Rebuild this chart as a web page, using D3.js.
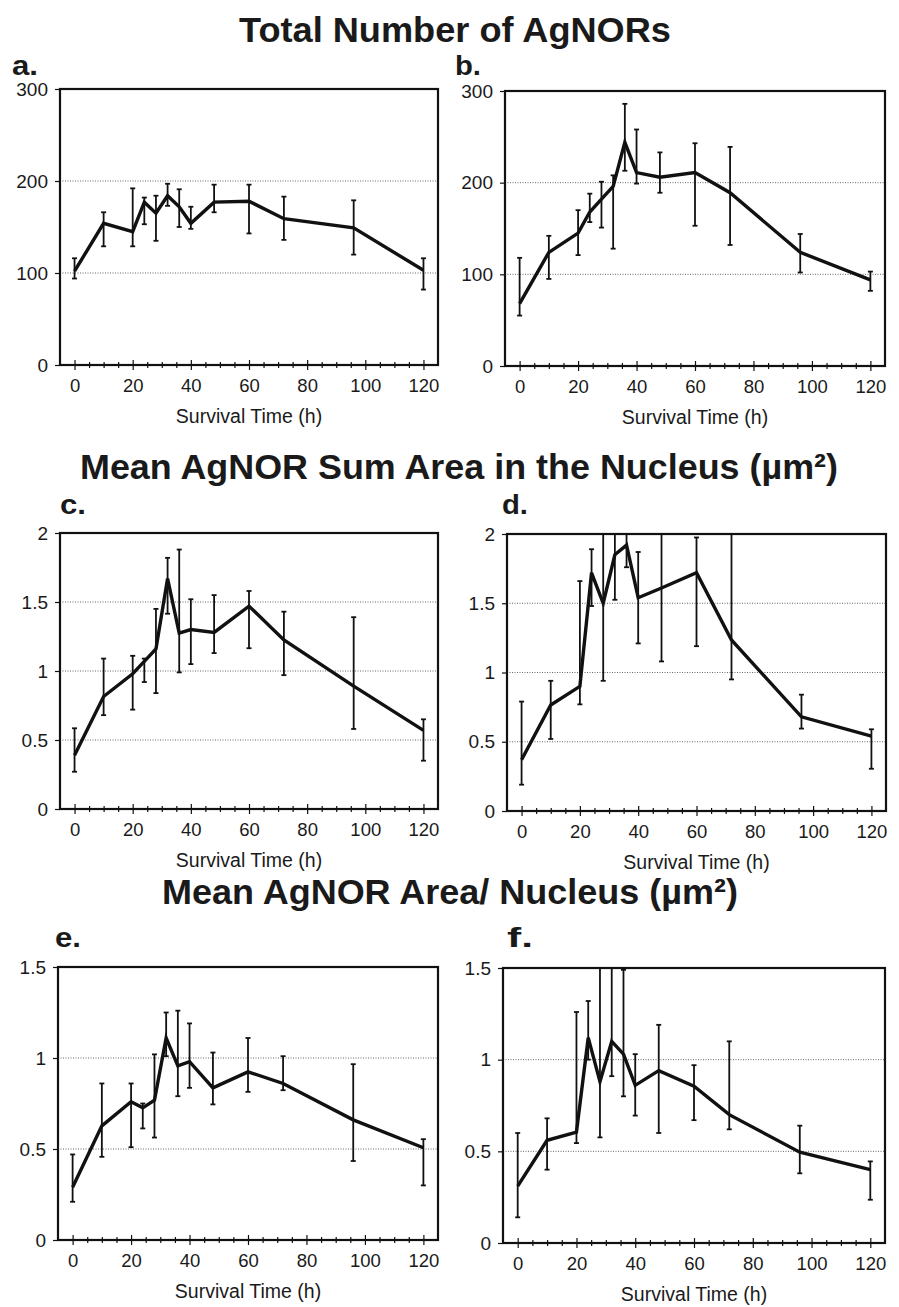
<!DOCTYPE html>
<html lang="en">
<head>
<meta charset="utf-8">
<style>
body { margin: 0; background: #fff; }
text { font-family: Arial, "Liberation Sans", sans-serif; fill: #1a1a1a; }
.title { font-weight: bold; font-size: 35px; }
.plabel { font-weight: bold; font-size: 27px; }
.grid line { stroke: #666; stroke-dasharray: 1,1.5; stroke-width: 1; }
.frame { fill: none; stroke: #111; stroke-width: 2.2; }
.series { fill: none; stroke: #111; stroke-width: 3.4; }
.err line { stroke: #111; stroke-width: 1.8; }
.axis text { fill: #1a1a1a; }
.axis line { stroke: #111; stroke-width: 1.2; }
.axis path { display: none; }
.xlab { font-size: 19.5px; }
</style>
</head>
<body>
<svg width="899" height="1307"></svg>
<script src="https://d3js.org/d3.v7.min.js"></script>
<script>

// sampling times (h)
var hours = [0, 10, 20, 24, 28, 32, 36, 40, 48, 60, 72, 96, 120];

// a. total number of AgNORs
var aMean = [102, 154, 145, 177, 165, 184, 172, 154, 177, 178, 159, 149, 103];
var aHi   = [116, 166, 192, 182, 184, 197, 191, 172, 196, 196, 183, 179, 116];
var aLo   = [94, 129, 129, 153, 135, 173, 150, 148, 166, 143, 136, 120, 82];

// b.
var bMean = [68, 124, 145, 168, 182, 196, 244, 211, 206, 211, 189, 124, 94];
var bHi   = [118, 142, 170, 188, 201, 208, 286, 258, 233, 243, 239, 144, 103];
var bLo   = [55, 95, 121, 157, 151, 128, 213, 199, 189, 153, 132, 102, 82];

// c. mean AgNOR sum area
var cMean = [0.39, 0.815, 0.98, 1.07, 1.16, 1.67, 1.275, 1.30, 1.28, 1.47, 1.225, 0.89, 0.57];
var cHi   = [0.585, 1.09, 1.11, 1.09, 1.45, 1.82, 1.88, 1.52, 1.55, 1.58, 1.43, 1.39, 0.65];
var cLo   = [0.27, 0.68, 0.72, 0.92, 0.84, 1.415, 0.99, 1.05, 1.13, 1.165, 0.97, 0.58, 0.35];

// d.
var dMean = [0.37, 0.765, 0.90, 1.72, 1.50, 1.85, 1.92, 1.54, 1.61, 1.72, 1.235, 0.68, 0.54];
var dHi   = [0.79, 0.94, 1.66, 1.89, 2.3, 2.2, 2.1, 1.87, 2.3, 1.975, 2.4, 0.84, 0.59];
var dLo   = [0.19, 0.52, 0.77, 1.48, 0.94, 1.525, 1.76, 1.21, 1.08, 1.19, 0.95, 0.595, 0.305];

// e. mean AgNOR area / nucleus
var eMean = [0.29, 0.627, 0.76, 0.726, 0.768, 1.11, 0.957, 0.98, 0.836, 0.924, 0.86, 0.66, 0.507];
var eHi   = [0.47, 0.86, 0.86, 0.75, 1.02, 1.25, 1.26, 1.19, 1.03, 1.11, 1.01, 0.966, 0.554];
var eLo   = [0.21, 0.457, 0.51, 0.613, 0.563, 1.01, 0.79, 0.836, 0.745, 0.814, 0.823, 0.434, 0.30];

// f.
var fMean = [0.31, 0.56, 0.605, 1.12, 0.88, 1.10, 1.03, 0.86, 0.94, 0.855, 0.70, 0.495, 0.40];
var fHi   = [0.60, 0.68, 1.26, 1.32, 1.7, 1.65, 1.49, 1.03, 1.19, 0.97, 1.10, 0.64, 0.445];
var fLo   = [0.14, 0.40, 0.545, 1.0, 0.576, 0.91, 0.80, 0.695, 0.60, 0.67, 0.62, 0.38, 0.236];

var yTicksCount = [0, 100, 200, 300];
var yTicksArea = [0, 0.5, 1, 1.5, 2];
var yTicksSmall = [0, 0.5, 1, 1.5];
var xTicks = [0, 20, 40, 60, 80, 100, 120];

var titles = ["Total Number of AgNORs", "Mean AgNOR Sum Area in the Nucleus (\u00b5m\u00b2)", "Mean AgNOR Area/ Nucleus (\u00b5m\u00b2)"];
var xTitle = "Survival Time (h)";

var svg = d3.select("svg");

// titles: x centre, baseline, width
var titlePos = [[455, 42, 432], [459, 479, 758], [450, 904, 576]];
titles.forEach(function(t, i) {
  svg.append("text")
      .attr("class", "title")
      .attr("x", titlePos[i][0])
      .attr("y", titlePos[i][1])
      .attr("text-anchor", "middle")
      .attr("textLength", titlePos[i][2])
      .attr("lengthAdjust", "spacingAndGlyphs")
      .text(t);
});

var panels = [
  {id: "a", mean: aMean, hi: aHi, lo: aLo, ymax: 300, ticks: yTicksCount, box: [60, 89, 438, 365], lab: [12, 75]},
  {id: "b", mean: bMean, hi: bHi, lo: bLo, ymax: 300, ticks: yTicksCount, box: [505, 91, 885, 366], lab: [455, 75]},
  {id: "c", mean: cMean, hi: cHi, lo: cLo, ymax: 2, ticks: yTicksArea, box: [60, 533, 438, 809], lab: [60, 514]},
  {id: "d", mean: dMean, hi: dHi, lo: dLo, ymax: 2, ticks: yTicksArea, box: [507, 534, 886, 811], lab: [502, 514]},
  {id: "e", mean: eMean, hi: eHi, lo: eLo, ymax: 1.5, ticks: yTicksSmall, box: [58, 967, 438, 1240], lab: [55, 947]},
  {id: "f", mean: fMean, hi: fHi, lo: fLo, ymax: 1.5, ticks: yTicksSmall, box: [503, 968, 885, 1243], lab: [507, 947]}
];

panels.forEach(drawPanel);

function drawPanel(p) {
  var L = p.box[0], T = p.box[1], R = p.box[2], B = p.box[3];
  var x = d3.scaleLinear().domain([-5, 125]).range([L, R]);
  var y = d3.scaleLinear().domain([0, p.ymax]).range([B, T]);
  var g = svg.append("g");

  svg.append("text")
      .attr("class", "plabel")
      .attr("x", p.lab[0])
      .attr("y", p.lab[1])
      .attr("textLength", 26)
      .attr("lengthAdjust", "spacingAndGlyphs")
      .text(p.id + ".");

  g.append("clipPath").attr("id", "clip-" + p.id)
    .append("rect")
      .attr("x", L).attr("y", T)
      .attr("width", R - L).attr("height", B - T);

  // dotted gridlines
  g.append("g")
      .attr("class", "grid")
    .selectAll("line")
    .data(p.ticks.filter(function(d) { return d > 0 && d < p.ymax; }))
    .enter().append("line")
      .attr("x1", L).attr("x2", R)
      .attr("y1", function(d) { return y(d); })
      .attr("y2", function(d) { return y(d); });

  // y axis
  g.append("g")
      .attr("class", "axis")
      .attr("transform", "translate(" + L + ",0)")
      .call(d3.axisLeft(y).tickValues(p.ticks).tickSize(5).tickPadding(7).tickFormat(d3.format("~g")))
    .selectAll("text").style("font-size", "19px");

  // x axis: labelled major ticks below, short ones above, plus minor ticks
  g.append("g")
      .attr("class", "axis")
      .attr("transform", "translate(0," + B + ")")
      .call(d3.axisBottom(x).tickValues(xTicks).tickSize(5).tickPadding(9))
    .selectAll("text").style("font-size", "18.5px");
  g.append("g")
      .attr("class", "axis")
      .attr("transform", "translate(0," + B + ")")
      .call(d3.axisTop(x).tickValues(xTicks).tickSize(5).tickFormat(""));
  var minor = d3.range(0, 125, 5).filter(function(d) { return d % 20 != 0; });
  g.append("g")
      .attr("class", "axis")
      .attr("transform", "translate(0," + B + ")")
      .call(d3.axisBottom(x).tickValues(minor).tickSize(3).tickFormat(""));
  g.append("g")
      .attr("class", "axis")
      .attr("transform", "translate(0," + B + ")")
      .call(d3.axisTop(x).tickValues(minor).tickSize(3).tickFormat(""));

  var inner = g.append("g").attr("clip-path", "url(#clip-" + p.id + ")");

  // error bars
  var err = inner.append("g").attr("class", "err")
    .selectAll("g")
    .data(hours)
    .enter().append("g");
  err.append("line")
      .attr("x1", function(d) { return x(d); })
      .attr("x2", function(d) { return x(d); })
      .attr("y1", function(d, i) { return y(p.hi[i]); })
      .attr("y2", function(d, i) { return y(p.lo[i]); });
  err.append("line")
      .attr("x1", function(d) { return x(d) - 2.5; })
      .attr("x2", function(d) { return x(d) + 2.5; })
      .attr("y1", function(d, i) { return y(p.hi[i]); })
      .attr("y2", function(d, i) { return y(p.hi[i]); });
  err.append("line")
      .attr("x1", function(d) { return x(d) - 2.5; })
      .attr("x2", function(d) { return x(d) + 2.5; })
      .attr("y1", function(d, i) { return y(p.lo[i]); })
      .attr("y2", function(d, i) { return y(p.lo[i]); });

  var line = d3.line()
      .x(function(d) { return x(d); })
      .y(function(d, i) { return y(p.mean[i]); });

  inner.append("path")
      .datum(hours)
      .attr("class", "series")
      .attr("d", line);

  g.append("rect")
      .attr("class", "frame")
      .attr("x", L).attr("y", T)
      .attr("width", R - L).attr("height", B - T);

  svg.append("text")
      .attr("class", "xlab")
      .attr("x", (L + R) / 2)
      .attr("y", B + 58)
      .attr("text-anchor", "middle")
      .text(xTitle);
}

</script>
</body>
</html>
